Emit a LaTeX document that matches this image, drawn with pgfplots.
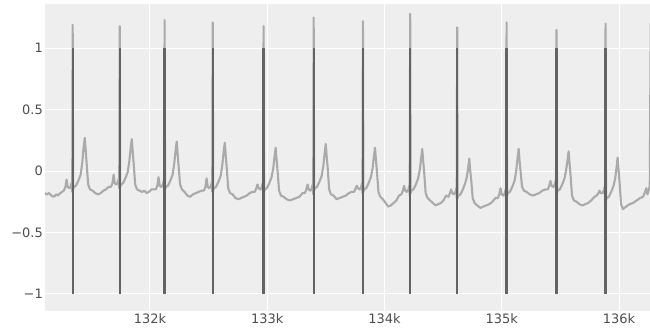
\documentclass[border=0pt]{standalone}
\usepackage{fontspec}
\setmainfont{DejaVu Sans}
\usepackage{pgfplots}
\pgfplotsset{compat=1.18}
\definecolor{bgc}{HTML}{EEEEEE}
\definecolor{sig}{HTML}{AAAAAA}
\definecolor{rline}{HTML}{636363}
\definecolor{lab}{HTML}{4D4D4D}
\begin{document}
\begin{tikzpicture}
\path[use as bounding box] (-45bp,-22bp) rectangle (605bp,311bp);
\begin{axis}[
  at={(0,0)}, anchor=south west,
  scale only axis, width=605bp, height=307bp,
  xmin=131105, xmax=136264, ymin=-1.14, ymax=1.36,
  axis background/.style={fill=bgc},
  axis line style={draw=none},
  tick style={draw=none},
  grid=major,
  major grid style={white, line width=1bp},
  scaled x ticks=false, scaled y ticks=false,
  xtick={132000,133000,134000,135000,136000},
  xticklabels={132k,133k,134k,135k,136k},
  ytick={-1,-0.5,0,0.5,1},
  yticklabels={−1,−0.5,0,0.5,1},
  ticklabel style={font=\fontsize{13}{13}\selectfont, text=lab},
  yticklabel style={inner sep=2bp},
  xticklabel style={inner sep=2.5bp},
  unbounded coords=jump,
  clip=true,
]
\addplot[sig, line width=2.1bp, line join=round] coordinates {
(131100,-0.18) (131120,-0.19) (131140,-0.18) (131160,-0.20) (131180,-0.21) (131200,-0.19) (131215,-0.20) (131235,-0.18) (131250,-0.17)
(131266,-0.16) (131279,-0.13) (131289,-0.07) (131299,-0.13) (131313,-0.14) (131326,-0.12) (131333,-0.09) (131337,-0.17) (131341,1.19) (131345,-0.15) (131351,-0.13) (131369,-0.12) (131389,-0.08) (131409,-0.03) (131423,0.07) (131435,0.20) (131444,0.27) (131452,0.17) (131461,0.05) (131473,-0.11) (131489,-0.15)
(131511,-0.16) (131534,-0.18) (131557,-0.19) (131580,-0.18) (131603,-0.16) (131625,-0.15) (131647,-0.13)
(131667,-0.13) (131680,-0.10) (131690,-0.03) (131700,-0.10) (131714,-0.11) (131727,-0.09) (131734,-0.06) (131738,-0.14) (131742,1.18) (131746,-0.13) (131752,-0.11) (131770,-0.10) (131790,-0.06) (131810,-0.01) (131824,0.08) (131836,0.19) (131845,0.26) (131853,0.16) (131862,0.05) (131874,-0.11) (131890,-0.15)
(131912,-0.16) (131932,-0.17) (131952,-0.16) (131972,-0.18) (131992,-0.17) (132012,-0.15) (132030,-0.15)
(132050,-0.15) (132063,-0.12) (132073,-0.05) (132083,-0.12) (132097,-0.13) (132110,-0.11) (132117,-0.08) (132121,-0.16) (132125,1.23) (132129,-0.15) (132135,-0.13) (132153,-0.12) (132173,-0.08) (132193,-0.03) (132207,0.06) (132219,0.17) (132228,0.24) (132236,0.14) (132245,0.03) (132257,-0.11) (132273,-0.15)
(132295,-0.17) (132319,-0.20) (132343,-0.21) (132367,-0.19) (132391,-0.18) (132415,-0.17) (132440,-0.16)
(132460,-0.16) (132473,-0.13) (132483,-0.06) (132493,-0.13) (132507,-0.14) (132520,-0.12) (132527,-0.09) (132531,-0.17) (132535,1.21) (132539,-0.16) (132545,-0.14) (132563,-0.13) (132583,-0.09) (132603,-0.04) (132617,0.05) (132629,0.16) (132638,0.23) (132646,0.13) (132655,0.02) (132667,-0.14) (132683,-0.18)
(132705,-0.19) (132729,-0.22) (132753,-0.23) (132777,-0.22) (132801,-0.21) (132825,-0.20) (132850,-0.18) (132874,-0.17)
(132894,-0.17) (132907,-0.14) (132917,-0.11) (132927,-0.14) (132941,-0.15) (132954,-0.13) (132961,-0.10) (132965,-0.18) (132969,1.18) (132973,-0.17) (132979,-0.15) (132997,-0.14) (133017,-0.10) (133037,-0.05) (133051,0.02) (133063,0.12) (133072,0.19) (133080,0.09) (133089,-0.01) (133101,-0.16) (133117,-0.20)
(133139,-0.21) (133166,-0.23) (133193,-0.24) (133220,-0.23) (133247,-0.22) (133274,-0.21) (133301,-0.18)
(133321,-0.18) (133334,-0.15) (133344,-0.11) (133354,-0.15) (133368,-0.16) (133381,-0.14) (133388,-0.11) (133392,-0.19) (133396,1.25) (133400,-0.16) (133406,-0.14) (133424,-0.13) (133444,-0.09) (133464,-0.04) (133478,0.04) (133490,0.15) (133499,0.22) (133507,0.12) (133516,0.02) (133528,-0.15) (133544,-0.19)
(133566,-0.20) (133592,-0.23) (133618,-0.22) (133644,-0.21) (133670,-0.20) (133696,-0.18) (133721,-0.17)
(133741,-0.17) (133754,-0.14) (133764,-0.12) (133774,-0.14) (133788,-0.15) (133801,-0.13) (133808,-0.10) (133812,-0.18) (133816,1.22) (133820,-0.17) (133826,-0.15) (133844,-0.14) (133864,-0.10) (133884,-0.05) (133898,0.02) (133910,0.12) (133919,0.19) (133927,0.09) (133936,-0.01) (133948,-0.17) (133964,-0.21)
(133986,-0.23) (134009,-0.26) (134032,-0.29) (134055,-0.28) (134078,-0.26) (134101,-0.24) (134124,-0.20)
(134144,-0.19) (134157,-0.16) (134167,-0.12) (134177,-0.16) (134191,-0.17) (134204,-0.15) (134211,-0.12) (134215,-0.20) (134219,1.28) (134223,-0.18) (134229,-0.16) (134247,-0.15) (134267,-0.11) (134287,-0.06) (134301,0.01) (134313,0.11) (134322,0.18) (134330,0.08) (134339,-0.02) (134351,-0.18) (134367,-0.22)
(134389,-0.24) (134412,-0.26) (134435,-0.28) (134458,-0.27) (134481,-0.26) (134503,-0.24) (134525,-0.20)
(134545,-0.21) (134558,-0.18) (134568,-0.15) (134578,-0.18) (134592,-0.19) (134605,-0.17) (134612,-0.14) (134616,-0.22) (134620,1.17) (134624,-0.22) (134630,-0.20) (134648,-0.19) (134668,-0.15) (134688,-0.10) (134702,-0.05) (134714,0.03) (134723,0.10) (134731,0.00) (134740,-0.08) (134752,-0.22) (134768,-0.26)
(134790,-0.28) (134816,-0.30) (134842,-0.29) (134868,-0.28) (134894,-0.27) (134920,-0.25) (134946,-0.22)
(134966,-0.22) (134979,-0.19) (134989,-0.14) (134999,-0.19) (135013,-0.20) (135026,-0.18) (135033,-0.15) (135037,-0.23) (135041,1.21) (135045,-0.20) (135051,-0.18) (135069,-0.17) (135089,-0.13) (135109,-0.08) (135123,0.00) (135135,0.11) (135144,0.18) (135152,0.08) (135161,-0.01) (135173,-0.13) (135189,-0.16)
(135211,-0.17) (135238,-0.19) (135265,-0.20) (135292,-0.19) (135319,-0.18) (135345,-0.16) (135372,-0.15)
(135392,-0.15) (135405,-0.12) (135415,-0.08) (135425,-0.12) (135439,-0.13) (135452,-0.11) (135459,-0.08) (135463,-0.16) (135467,1.15) (135471,-0.18) (135477,-0.16) (135495,-0.15) (135515,-0.11) (135535,-0.06) (135549,0.01) (135561,0.09) (135570,0.16) (135578,0.06) (135587,-0.04) (135599,-0.20) (135615,-0.24)
(135637,-0.25) (135662,-0.27) (135687,-0.28) (135712,-0.27) (135737,-0.26) (135763,-0.24) (135790,-0.21)
(135810,-0.20) (135823,-0.18) (135833,-0.16) (135843,-0.18) (135857,-0.18) (135870,-0.16) (135877,-0.13) (135881,-0.21) (135885,1.20) (135889,-0.24) (135895,-0.22) (135913,-0.21) (135933,-0.17) (135953,-0.12) (135967,-0.06) (135979,0.03) (135988,0.11) (135996,0.01) (136005,-0.10) (136017,-0.27) (136033,-0.31)
(136060,-0.29) (136090,-0.27) (136120,-0.26) (136150,-0.24) (136180,-0.22) (136205,-0.21) (136222,-0.17) (136232,-0.14) (136242,-0.19) (136252,-0.16) (136262,-0.12) (136270,1.20)
};
\addplot[rline, line width=2.3bp] coordinates {
(131341,-1) (131341,1) (131341,nan)
(131742,-1) (131742,1) (131742,nan)
(132125,-1) (132125,1) (132125,nan)
(132535,-1) (132535,1) (132535,nan)
(132969,-1) (132969,1) (132969,nan)
(133396,-1) (133396,1) (133396,nan)
(133816,-1) (133816,1) (133816,nan)
(134219,-1) (134219,1) (134219,nan)
(134620,-1) (134620,1) (134620,nan)
(135041,-1) (135041,1) (135041,nan)
(135467,-1) (135467,1) (135467,nan)
(135885,-1) (135885,1)
};
\end{axis}
\end{tikzpicture}
\end{document}
